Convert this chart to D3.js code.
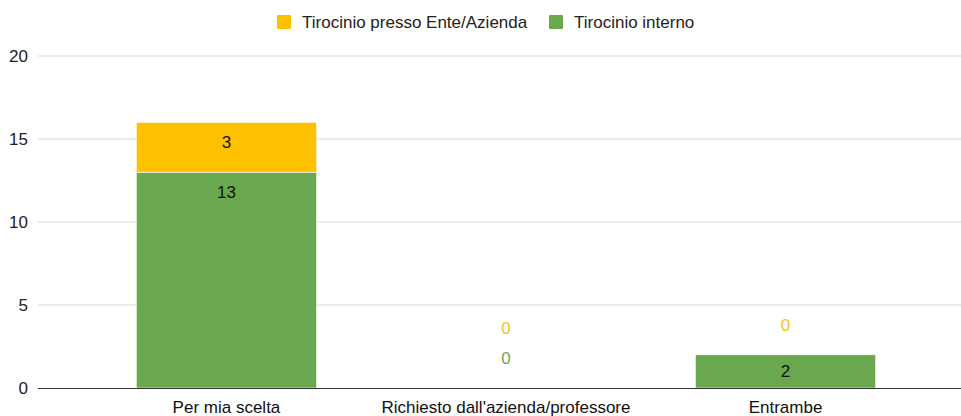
<!DOCTYPE html>
<html><head><meta charset="utf-8">
<script src="https://cdn.jsdelivr.net/npm/d3@7"></script>
<style>body{margin:0;background:#fff}svg{display:block;font-family:"Liberation Sans",Arial,sans-serif}</style>
</head><body><svg id="c" width="961" height="416"></svg>
<script>
const categories = ["Per mia scelta", "Richiesto dall'azienda/professore", "Entrambe"];
const seriesNames = ["Tirocinio interno", "Tirocinio presso Ente/Azienda"];
const interno = [13, 0, 2];
const ente = [3, 0, 0];
const yTicks = [0, 5, 10, 15, 20];
const colors = {"Tirocinio interno": "#6aa84f", "Tirocinio presso Ente/Azienda": "#ffc000"};
const labelColors = {"Tirocinio interno": "#6aa84f", "Tirocinio presso Ente/Azienda": "#f9c120"};

const svg = d3.select("#c");
const plotL = 38, plotR = 961, y0 = 388, y1 = 56;
const FS = 17;
const x = d3.scaleBand().domain(categories).range([86, 926]).paddingInner(0.355).paddingOuter(0.18);
const y = d3.scaleLinear().domain([0, 20]).range([y0, y1]);

// gridlines
svg.append("g").selectAll("line").data(yTicks.filter(d => d > 0)).join("line")
  .attr("x1", plotL).attr("x2", plotR).attr("y1", d => y(d)).attr("y2", d => y(d))
  .attr("stroke", "#d9d9d9").attr("stroke-width", 1);

// y tick labels
const yAxis = d3.axisLeft(y).tickValues(yTicks).tickSize(0).tickPadding(0);
const ga = svg.append("g").attr("transform", `translate(28,0)`).call(yAxis);
ga.select(".domain").remove();
ga.selectAll("text").attr("font-size", FS).attr("fill", "#222").attr("font-family", "Liberation Sans, Arial, sans-serif").attr("dy", "0.35em");

const data = categories.map((c, i) => ({cat: c, "Tirocinio interno": interno[i], "Tirocinio presso Ente/Azienda": ente[i]}));
const stack = d3.stack().keys(seriesNames)(data);

const bw = x.bandwidth();
stack.forEach(s => {
  svg.append("g").selectAll("rect").data(s.filter(d => d[1] - d[0] > 0)).join("rect")
    .attr("x", d => x(d.data.cat)).attr("width", bw)
    .attr("y", d => y(d[1])).attr("height", d => y(d[0]) - y(d[1]))
    .attr("fill", colors[s.key]).attr("stroke", "#fff").attr("stroke-width", 0.6);
});

// labels
categories.forEach((c, i) => {
  let zeroCount = 0;
  const topVal = interno[i] + ente[i];
  stack.forEach(s => {
    const d = s[i];
    const v = d[1] - d[0];
    const cx = x(c) + bw / 2;
    if (v > 0) {
      const top = y(d[1]), bot = y(d[0]);
      const cy = Math.min(top + 20, (top + bot) / 2);
      svg.append("text").attr("x", cx).attr("y", cy).attr("dy", "0.35em")
        .attr("text-anchor", "middle").attr("font-size", FS).attr("fill", "#111").text(v);
    } else {
      zeroCount++;
      const cy = y(topVal) - 30 * zeroCount;
      svg.append("text").attr("x", cx).attr("y", cy).attr("dy", "0.35em")
        .attr("text-anchor", "middle").attr("font-size", FS).attr("fill", labelColors[s.key]).text(v);
    }
  });
});

// baseline
svg.append("line").attr("x1", plotL).attr("x2", plotR).attr("y1", y0 + 0.5).attr("y2", y0 + 0.5)
  .attr("stroke", "#333").attr("stroke-width", 1.2);

// x axis labels
const xAxis = d3.axisBottom(x).tickSize(0).tickPadding(0);
const gx = svg.append("g").attr("transform", `translate(0,${y0})`).call(xAxis);
gx.select(".domain").remove();
gx.selectAll("text").attr("font-size", FS).attr("fill", "#111").attr("font-family", "Liberation Sans, Arial, sans-serif").attr("y", 25).attr("dy", 0);

// legend
const legendItems = [
  {name: "Tirocinio presso Ente/Azienda", x: 277},
  {name: "Tirocinio interno", x: 549}
];
const lg = svg.append("g");
legendItems.forEach(it => {
  lg.append("rect").attr("x", it.x).attr("y", 15).attr("width", 14).attr("height", 14).attr("rx", 1).attr("fill", colors[it.name]);
  lg.append("text").attr("x", it.x + 25).attr("y", 28).attr("font-size", FS).attr("fill", "#222").text(it.name);
});
</script></body></html>
